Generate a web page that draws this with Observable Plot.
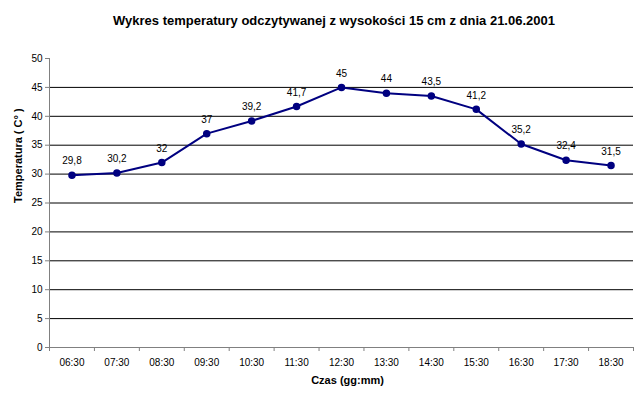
<!DOCTYPE html>
<html>
<head>
<meta charset="utf-8">
<script src="https://cdn.jsdelivr.net/npm/d3@7"></script>
<script src="https://cdn.jsdelivr.net/npm/@observablehq/plot@0.6"></script>
<style>
  html, body { margin: 0; padding: 0; background: #fff; }
  #title { height: 40px; width: 612px; padding-left: 28px; text-align: center; font: bold 13px "Liberation Sans", Arial, sans-serif; line-height: 41px; color: #000; }
  svg { display: block; }
</style>
</head>
<body>
<div id="title">Wykres temperatury odczytywanej z wysokości 15 cm z dnia 21.06.2001</div>
<div id="chart"></div>
<script>
const times = ["06:30","07:30","08:30","09:30","10:30","11:30","12:30","13:30","14:30","15:30","16:30","17:30","18:30"];
const temps = [29.8, 30.2, 32, 37, 39.2, 41.7, 45, 44, 43.5, 41.2, 35.2, 32.4, 31.5];
const yTicks = [0, 5, 10, 15, 20, 25, 30, 35, 40, 45, 50];
const gridLines = [5, 10, 15, 20, 25, 30, 35, 40, 45];

const data = times.map((t, i) => ({i, t, v: temps[i]}));
const idx = d3.range(times.length);
const bounds = d3.range(times.length + 1).map(k => k - 0.5);
const fmt = v => String(v).replace(".", ",");

const chart = Plot.plot({
  width: 640,
  height: 359,
  marginTop: 18,
  marginBottom: 52,
  marginLeft: 49,
  marginRight: 7,
  style: {fontFamily: "'Liberation Sans', Arial, sans-serif", fontSize: "10px", color: "#000", background: "#fff"},
  x: {type: "linear", domain: [-0.5, times.length - 0.5]},
  y: {domain: [0, 50]},
  marks: [
    Plot.ruleY(gridLines, {stroke: "#000", strokeWidth: 1}),
    Plot.axisY({ticks: yTicks, tickSize: 4, tickPadding: 3, stroke: "#808080", fill: "#000", label: null}),
    Plot.text(["Temperatura ( C° )"], {frameAnchor: "left", dx: -31, rotate: -90, fontWeight: "bold", fontSize: 11, fill: "#000"}),
    Plot.axisX({ticks: idx, tickSize: 0, tickPadding: 11, tickFormat: i => times[i], fill: "#000", label: null}),
    Plot.axisX({ticks: bounds, tickSize: 4, tickFormat: () => "", stroke: "#808080", label: null}),
    Plot.text(["Czas (gg:mm)"], {frameAnchor: "bottom", dy: 36, dx: 6, fontWeight: "bold", fontSize: 11, fill: "#000"}),
    Plot.ruleX([-0.5], {stroke: "#808080"}),
    Plot.ruleY([0], {stroke: "#808080"}),
    Plot.line(data, {x: "i", y: "v", stroke: "#000080", strokeWidth: 2}),
    Plot.dot(data, {x: "i", y: "v", r: 3, fill: "#000080", stroke: "#000080"}),
    Plot.text(data, {x: "i", y: "v", text: d => fmt(d.v), dy: -14, fill: "#000", fontSize: 10})
  ]
});
document.getElementById("chart").appendChild(chart);
</script>
</body>
</html>
